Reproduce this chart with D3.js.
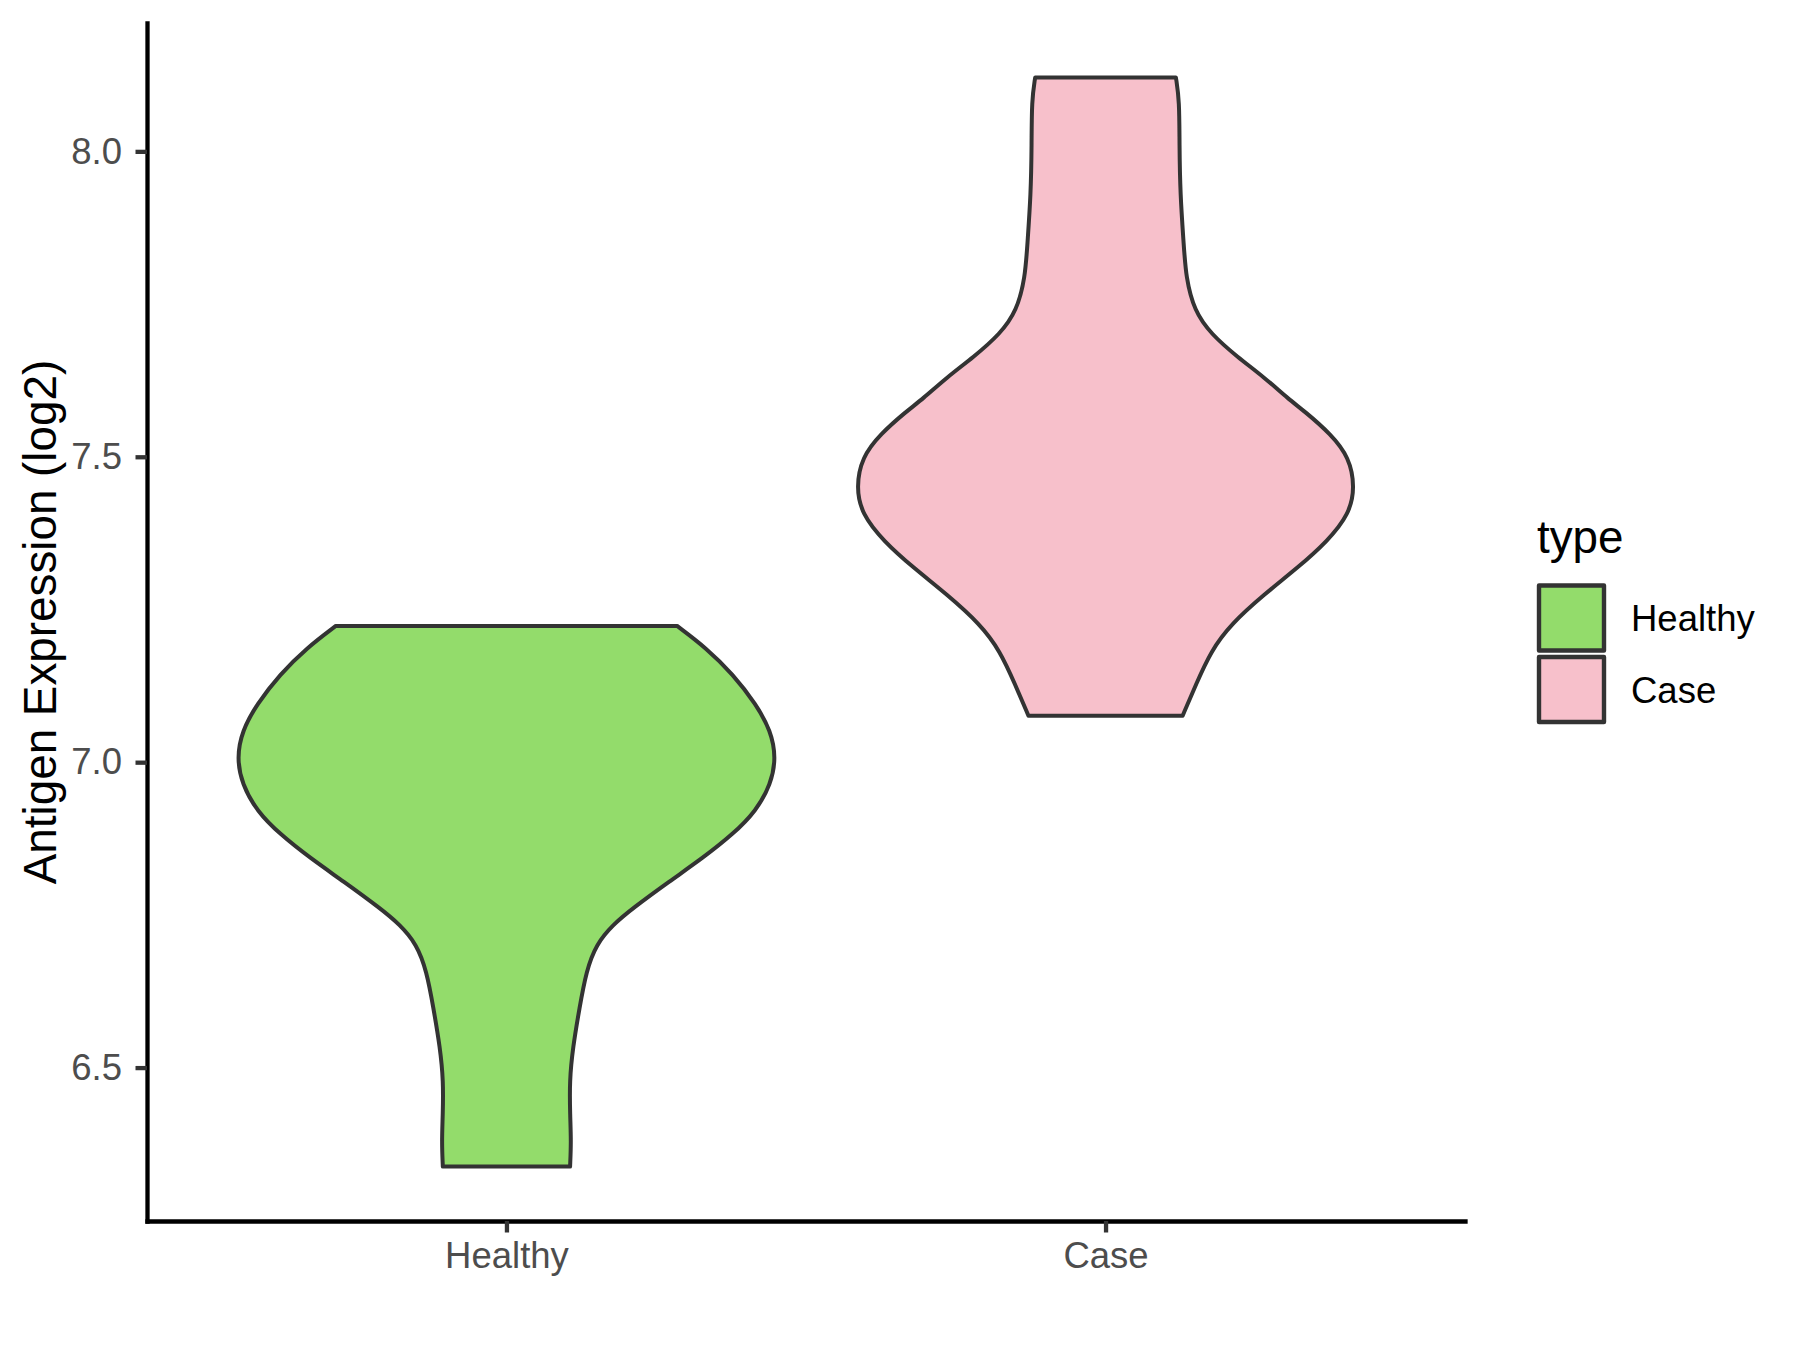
<!DOCTYPE html>
<html>
<head>
<meta charset="utf-8">
<script src="https://cdn.jsdelivr.net/npm/d3@7"></script>
<style>
  body { margin: 0; background: #fff; }
  text { font-family: "Liberation Sans", Arial, sans-serif; }
</style>
</head>
<body>
<svg id="chart"></svg>
<script>
// groups on the x axis
var categories = ['Healthy', 'Case'];

// violin outlines: expression value and relative density (1 = widest)
var healthyValues = [7.223, 7.187, 7.144, 7.095, 7.051, 7.007, 6.964, 6.920, 6.882, 6.843, 6.805,
  6.761, 6.734, 6.702, 6.658, 6.598, 6.532, 6.478, 6.423, 6.379, 6.338];
var healthyDensity = [0.633, 0.741, 0.840, 0.926, 0.981, 1.000, 0.981, 0.926, 0.840, 0.728, 0.605,
  0.469, 0.395, 0.333, 0.296, 0.271, 0.246, 0.234, 0.236, 0.240, 0.236];

var caseValues = [8.121, 8.083, 8.012, 7.930, 7.848, 7.794, 7.739, 7.701, 7.663, 7.630, 7.594,
  7.575, 7.537, 7.499, 7.450, 7.406, 7.362, 7.318, 7.275, 7.226, 7.182, 7.127, 7.076];
var caseDensity = [0.261, 0.274, 0.274, 0.277, 0.290, 0.298, 0.329, 0.391, 0.490, 0.589, 0.680,
  0.737, 0.836, 0.904, 0.925, 0.904, 0.824, 0.712, 0.589, 0.465, 0.391, 0.335, 0.286];

var yTicks = [6.5, 7.0, 7.5, 8.0];

var fillColors = ['#93DC6B', '#F7C0CB'];

var W = 1800, H = 1350;
var panel = { left: 147, right: 1465, top: 23, bottom: 1221 };

var svg = d3.select('#chart')
  .attr('width', W)
  .attr('height', H)
  .attr('viewBox', '0 0 ' + W + ' ' + H);

svg.append('rect').attr('width', W).attr('height', H).attr('fill', '#fff');

var violins = [
  { type: categories[0], pts: healthyValues.map(function(v, i) { return { v: v, d: healthyDensity[i] }; }) },
  { type: categories[1], pts: caseValues.map(function(v, i) { return { v: v, d: caseDensity[i] }; }) }
];

// y domain like ggplot: data range plus 5% each side
var allVals = healthyValues.concat(caseValues);
var lo = d3.min(allVals), hi = d3.max(allVals), pad = (hi - lo) * 0.05;

var y = d3.scaleLinear()
  .domain([lo - pad, hi + pad])
  .range([panel.bottom, panel.top]);

var x = d3.scalePoint()
  .domain(categories)
  .range([panel.left, panel.right])
  .padding(0.6);

var color = d3.scaleOrdinal().domain(categories).range(fillColors);

var halfW = d3.scaleLinear().domain([0, 1]).range([0, 0.45 * x.step()]);

var area = d3.area()
  .y(function(p) { return y(p.v); })
  .curve(d3.curveBasis);

svg.append('g').attr('class', 'violins')
  .selectAll('path')
  .data(violins)
  .join('path')
  .attr('d', function(g) {
    var cx = x(g.type);
    return area
      .x0(function(p) { return cx - halfW(p.d); })
      .x1(function(p) { return cx + halfW(p.d); })(g.pts);
  })
  .attr('fill', function(g) { return color(g.type); })
  .attr('stroke', '#333333')
  .attr('stroke-width', 4)
  .attr('stroke-linejoin', 'round');

// axes
var yAxis = svg.append('g')
  .attr('transform', 'translate(' + panel.left + ',0)')
  .call(d3.axisLeft(y).tickValues(yTicks).tickFormat(d3.format('.1f'))
    .tickSize(11.5).tickSizeOuter(0).tickPadding(13.5));

var xAxis = svg.append('g')
  .attr('transform', 'translate(0,' + panel.bottom + ')')
  .call(d3.axisBottom(x).tickSize(11.5).tickSizeOuter(0).tickPadding(9.5));

[yAxis, xAxis].forEach(function(ax) {
  ax.select('.domain').attr('stroke', '#000').attr('stroke-width', 4.3).attr('stroke-linecap', 'square');
  ax.selectAll('.tick line').attr('stroke', '#333333').attr('stroke-width', 4.3);
  ax.selectAll('.tick text')
    .attr('fill', '#4D4D4D')
    .attr('font-size', 36.5)
    .attr('font-family', '"Liberation Sans", Arial, sans-serif');
});

svg.append('text')
  .attr('transform', 'translate(56,' + ((panel.top + panel.bottom) / 2) + ') rotate(-90)')
  .attr('text-anchor', 'middle')
  .attr('font-size', 45.8)
  .attr('fill', '#000')
  .text('Antigen Expression (log2)');

// legend
var legend = svg.append('g').attr('class', 'legend');

legend.append('text')
  .attr('x', 1537)
  .attr('y', 553)
  .attr('font-size', 45.8)
  .attr('fill', '#000')
  .text('type');

var keys = legend.selectAll('g.key')
  .data(categories)
  .join('g')
  .attr('class', 'key')
  .attr('transform', function(d, i) { return 'translate(1539,' + (585.5 + i * 71.5) + ')'; });

keys.append('rect')
  .attr('width', 65)
  .attr('height', 65)
  .attr('fill', function(d) { return color(d); })
  .attr('stroke', '#333333')
  .attr('stroke-width', 4.4)
  .attr('stroke-linejoin', 'round');

keys.append('text')
  .attr('x', 92)
  .attr('y', 45.5)
  .attr('font-size', 36.5)
  .attr('fill', '#000')
  .text(function(d) { return d; });
</script>
</body>
</html>
